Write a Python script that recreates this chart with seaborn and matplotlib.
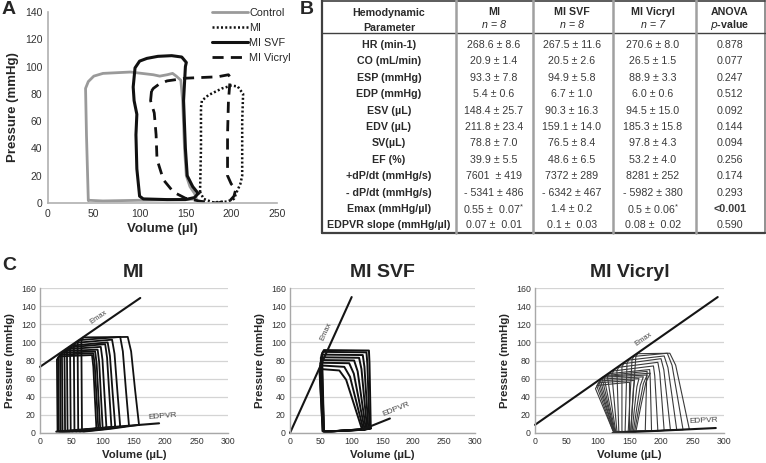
import numpy as np
import pandas as pd
import matplotlib
matplotlib.use('Agg')
import matplotlib.pyplot as plt
from matplotlib.lines import Line2D
import seaborn as sns

# -----------------------------
# Panel A - representative PV loops (volume, pressure)
# -----------------------------
control_v = [44, 42, 41, 44, 50, 60, 90, 115, 122, 130, 136, 140, 145, 147, 149, 151, 155, 160, 162, 150, 100, 60, 44]
control_p = [2, 50, 84, 89, 93, 95, 96, 94, 93, 94, 95, 93, 90, 75, 40, 20, 12, 7, 3, 2.5, 2, 1.5, 2]

mi_v = [166, 167, 167, 168, 175, 190, 200, 207, 213, 212, 212, 210, 206, 203, 195, 180, 170, 166]
mi_p = [8, 40, 70, 75, 79, 84, 86, 85.5, 80, 60, 20, 14, 8, 3, 1, 0.5, 3, 8]

svf_v = [164, 158, 152, 150, 148, 150, 151, 146, 135, 120, 108, 100, 95, 93, 94, 97, 96, 97, 100, 104, 130, 150, 160, 164]
svf_p = [7, 12, 20, 40, 75, 100, 103, 107, 108, 107.5, 106, 104, 99, 85, 75, 65, 50, 25, 5, 3, 2.5, 2.5, 4, 7]

vic_v = [113, 112, 116, 118, 119, 126, 137, 150, 167, 185, 199, 203, 205, 200, 196, 196, 197, 199, 197, 185, 151, 130, 121, 115, 113]
vic_p = [82, 75, 66, 50, 32, 17, 8, 3.5, 1.2, 0, 2, 5, 10, 14, 20, 50, 75, 92, 94, 92.5, 91.5, 89.5, 87, 84, 82]

groups_a = ['Control', 'MI', 'MI SVF', 'MI Vicryl']

# -----------------------------
# Panel B - hemodynamic table
# -----------------------------
params = ['HR (min-1)', 'CO (mL/min)', 'ESP (mmHg)', 'EDP (mmHg)', 'ESV (µL)', 'EDV (µL)',
          'SV(µL)', 'EF (%)', '+dP/dt (mmHg/s)', '- dP/dt (mmHg/s)', 'Emax (mmHg/µl)',
          'EDPVR slope (mmHg/µl)']
mi_vals = ['268.6 ± 8.6', '20.9 ± 1.4', '93.3 ± 7.8', '5.4 ± 0.6', '148.4 ± 25.7', '211.8 ± 23.4',
           '78.8 ± 7.0', '39.9 ± 5.5', '7601  ± 419', '- 5341 ± 486', '0.55 ±  0.07$^{*}$', '0.07 ±  0.01']
svf_vals = ['267.5 ± 11.6', '20.5 ± 2.6', '94.9 ± 5.8', '6.7 ± 1.0', '90.3 ± 16.3', '159.1 ± 14.0',
            '76.5 ± 8.4', '48.6 ± 6.5', '7372 ± 289', '- 6342 ± 467', '1.4 ± 0.2', '0.1 ±  0.03']
vic_vals = ['270.6 ± 8.0', '26.5 ± 1.5', '88.9 ± 3.3', '6.0 ± 0.6', '94.5 ± 15.0', '185.3 ± 15.8',
            '97.8 ± 4.3', '53.2 ± 4.0', '8281 ± 252', '- 5982 ± 380', '0.5 ± 0.06$^{*}$', '0.08 ±  0.02']
p_vals = ['0.878', '0.077', '0.247', '0.512', '0.092', '0.144', '0.094', '0.256', '0.174', '0.293',
          '<0.001', '0.590']
col_heads = ['MI', 'MI SVF', 'MI Vicryl']
col_n = ['n = 8', 'n = 8', 'n = 7']

# -----------------------------
# Panel C - occlusion loops: per loop end-systolic / end-diastolic corners
# esv/esp = top-left corner, vtr/ptr = top-right corner, edv/edp = bottom-right,
# vbl = volume where relaxation ends
# -----------------------------
# MI
c1_esv = [27, 29, 32, 35, 39, 43, 48, 54, 60, 66]
c1_esp = [84, 86, 88, 90, 92, 94, 96, 99, 102, 105]
c1_vtr = [83, 85, 88, 92, 97, 104, 108, 115, 128, 140]
c1_ptr = [86, 88, 90, 92, 95, 98, 100, 103, 106, 106]
c1_edv = [90, 93, 96, 100, 106, 114, 120, 128, 142, 158]
c1_edp = [5, 5, 5, 5.5, 6, 6.5, 7, 7, 8, 9]
c1_vbl = [28, 30, 33, 36, 40, 44, 49, 55, 61, 67]
c1_emax = ([0, 160], [73, 149])
c1_edpvr = ([26, 190], [1.5, 10.7])

# MI SVF
c2_esv = [48, 48, 49, 49, 50, 50, 51, 52]
c2_esp = [70, 74, 77, 80, 83, 86, 89, 91]
c2_vtr = [80, 88, 96, 104, 112, 118, 124, 128]
c2_ptr = [69, 73, 77, 80, 83, 86, 89, 91]
c2_edv = [117, 119, 121, 123, 125, 127, 129, 131]
c2_edp = [3.5, 3.6, 3.8, 4, 4.2, 4.5, 4.8, 5]
c2_vbl = [53, 53, 54, 54, 54, 55, 55, 55]
c2_emax = ([0, 100], [0, 150])
c2_edpvr = ([118, 162], [4, 16])

# MI Vicryl
c3_esv = [96, 98, 100, 102, 104, 107, 110, 115, 122, 130, 138, 146, 154, 160]
c3_esp = [52, 55, 57, 59, 61, 62, 63, 65, 68, 72, 76, 80, 84, 87]
c3_vtr = [150, 158, 165, 172, 178, 183, 178, 182, 188, 195, 200, 205, 210, 214]
c3_ptr = [56, 58, 60, 62, 64, 66, 68, 70, 74, 78, 82, 85, 88, 88]
c3_edv = [150, 152, 154, 156, 158, 160, 175, 185, 195, 205, 215, 225, 235, 245]
c3_edp = [0.9, 1, 1, 1.1, 1.2, 1.2, 1.7, 2.1, 2.4, 2.7, 3.1, 3.4, 3.7, 4.1]
c3_vbl = [124, 124, 125, 125, 126, 126, 127, 128, 130, 133, 138, 143, 148, 152]
c3_emax = ([0, 290], [9, 150])
c3_edpvr = ([123, 287], [0, 5.5])

# -----------------------------
# Figure setup
# -----------------------------
sns.set_theme(style='white')
plt.rcParams['font.family'] = ['Liberation Sans', 'DejaVu Sans']
plt.rcParams['mathtext.default'] = 'regular'

W, H = 766, 463
fig = plt.figure(figsize=(W / 100, H / 100), dpi=100)


def px_axes(l, t, r, b):
    return fig.add_axes([l / W, 1 - b / H, (r - l) / W, (b - t) / H])


def loop_frame(loop_id, esv, esp, vtr, ptr, edv, edp, vbl):
    d = edv - vtr
    vol = [edv, edv - 0.35 * d, edv - 0.7 * d, vtr, esv + 3, esv, vbl, vbl + 3,
           (vbl + edv) / 2, edv]
    pres = [edp, 0.45 * ptr, 0.85 * ptr, ptr, esp + 0.5, esp - 3, 2, 1.5,
            1 + 0.4 * edp, edp]
    return pd.DataFrame({'loop': loop_id, 'vol': vol, 'pres': pres})


# -----------------------------
# Panel A
# -----------------------------
axA = px_axes(48, 12, 277, 203)
frames = []
for g, v, p in zip(groups_a, [control_v, mi_v, svf_v, vic_v], [control_p, mi_p, svf_p, vic_p]):
    frames.append(pd.DataFrame({'group': g, 'vol': v, 'pres': p}))
dfA = pd.concat(frames)
styles = {'Control': dict(color='#9a9a9a', lw=2.0, ls='-'),
          'MI': dict(color='#111111', lw=1.8, ls=(0, (0.8, 0.9))),
          'MI SVF': dict(color='#111111', lw=2.2, ls='-'),
          'MI Vicryl': dict(color='#111111', lw=2.0, ls=(0, (4, 2.6)))}
for g in groups_a:
    sub = dfA[dfA['group'] == g]
    sns.lineplot(data=sub, x='vol', y='pres', sort=False, estimator=None, ax=axA,
                 color=styles[g]['color'], lw=styles[g]['lw'], linestyle=styles[g]['ls'])
axA.set_xlim(0, 250)
axA.set_ylim(0, 140)
axA.set_xticks(range(0, 251, 50))
axA.set_yticks(range(0, 141, 20))
axA.tick_params(labelsize=7.5, colors='#333333', length=0, pad=4)
for s in ['top', 'right']:
    axA.spines[s].set_visible(False)
for s in ['left', 'bottom']:
    axA.spines[s].set_color('#b0b0b0')
    axA.spines[s].set_linewidth(1.2)
axA.set_xlabel('Volume (µl)', fontsize=9.5, fontweight='bold', labelpad=3)
axA.set_ylabel('Pressure (mmHg)', fontsize=9.5, fontweight='bold', labelpad=4)
handles = [Line2D([], [], color=styles[g]['color'], lw=styles[g]['lw'], linestyle=styles[g]['ls'])
           for g in groups_a]
axA.legend(handles, groups_a, loc='upper left', bbox_to_anchor=(212 / W, 1 - 8 / H),
           bbox_transform=fig.transFigure, frameon=False, fontsize=7.8, handlelength=3.3,
           handletextpad=0.15, labelspacing=0.45, borderpad=0, borderaxespad=0)

# -----------------------------
# Panel B - table
# -----------------------------
axB = px_axes(322, 0, 765, 233)
axB.set_xlim(322, 765)
axB.set_ylim(233, 0)
axB.axis('off')
col_x = [389, 494, 572, 653, 730]
sep_x = [456, 533, 613, 696]
dark = '#404040'
axB.plot([322, 322], [0, 233], color=dark, lw=1.6, clip_on=False)
axB.plot([765, 765], [0, 233], color='#909090', lw=1.4, clip_on=False)
axB.plot([322, 765], [0.5, 0.5], color=dark, lw=1.2, clip_on=False)
axB.plot([322, 765], [233, 233], color=dark, lw=1.6, clip_on=False)
axB.plot([322, 765], [33, 33], color=dark, lw=1.0, clip_on=False)
for x in sep_x:
    axB.plot([x, x], [0, 233], color='#a0a0a0', lw=1.8, clip_on=False)

tc = '#2a2a2a'
fs = 7.7
axB.text(col_x[0], 13, 'Hemodynamic', ha='center', va='center', fontsize=fs, fontweight='bold', color=tc)
axB.text(col_x[0], 28, 'Parameter', ha='center', va='center', fontsize=fs, fontweight='bold', color=tc)
for i, (h, n) in enumerate(zip(col_heads, col_n)):
    axB.text(col_x[i + 1], 12, h, ha='center', va='center', fontsize=fs, fontweight='bold', color=tc)
    axB.text(col_x[i + 1], 25, n, ha='center', va='center', fontsize=fs, style='italic', color=tc)
axB.text(col_x[4], 12, 'ANOVA', ha='center', va='center', fontsize=fs, fontweight='bold', color=tc)
axB.text(col_x[4], 25, r'$\mathit{p}$-value', ha='center', va='center', fontsize=fs, fontweight='bold', color=tc)

for r, (pn, a, b, c, pv) in enumerate(zip(params, mi_vals, svf_vals, vic_vals, p_vals)):
    y = 45 + r * 16.4
    axB.text(col_x[0], y, pn, ha='center', va='center', fontsize=fs, fontweight='bold', color=tc)
    for j, s in enumerate([a, b, c]):
        axB.text(col_x[j + 1], y, s, ha='center', va='center', fontsize=fs, color='#3a3a3a')
    axB.text(col_x[4], y, pv, ha='center', va='center', fontsize=fs, color='#3a3a3a',
             fontweight='bold' if pv.startswith('<') else 'normal')

# -----------------------------
# Panel C
# -----------------------------
panels = [
    ('MI', (40, 228), (c1_esv, c1_esp, c1_vtr, c1_ptr, c1_edv, c1_edp, c1_vbl), c1_emax, c1_edpvr,
     '#111111', 1.3, (94, 128), (195, 18)),
    ('MI SVF', (290, 475), (c2_esv, c2_esp, c2_vtr, c2_ptr, c2_edv, c2_edp, c2_vbl), c2_emax, c2_edpvr,
     '#111111', 1.4, (58, 112), (172, 26)),
    ('MI Vicryl', (535, 724), (c3_esv, c3_esp, c3_vtr, c3_ptr, c3_edv, c3_edp, c3_vbl), c3_emax, c3_edpvr,
     '#3a3a3a', 0.8, (173, 104), (268, 14)),
]
for title, (l, r), cols, emax, edpvr, lc, lw, emax_xy, edpvr_xy in panels:
    ax = px_axes(l, 288, r, 433)
    dfs = [loop_frame(k, *vals) for k, vals in enumerate(zip(*cols))]
    dfc = pd.concat(dfs)
    sns.lineplot(data=dfc, x='vol', y='pres', units='loop', estimator=None, sort=False,
                 color=lc, lw=lw, ax=ax)
    ax.plot(emax[0], emax[1], color='#151515', lw=1.5, clip_on=False)
    ax.plot(edpvr[0], edpvr[1], color='#151515', lw=1.5, clip_on=False)
    for ln in ax.get_lines():
        ln.set_clip_on(False)
    ax.set_xlim(0, 300)
    ax.set_ylim(0, 160)
    ax.set_xticks(range(0, 301, 50))
    ax.set_yticks(range(0, 161, 20))
    ax.yaxis.grid(True, color='#d4d4d4', lw=0.9)
    ax.set_axisbelow(True)
    ax.tick_params(labelsize=6.3, colors='#333333', length=0, pad=3)
    for s in ['top', 'right']:
        ax.spines[s].set_visible(False)
    for s in ['left', 'bottom']:
        ax.spines[s].set_color('#a8a8a8')
        ax.spines[s].set_linewidth(1.0)
    ax.set_xlabel('Volume (µL)', fontsize=8.2, fontweight='bold', labelpad=3)
    ax.set_ylabel('Pressure (mmHg)', fontsize=8.2, fontweight='bold', labelpad=4)
    ax.set_title(title, fontsize=14, fontweight='bold', pad=8)
    # label rotations follow the lines on screen
    fig.canvas.draw()
    for (xs, ys), txt, (tx, ty), fsz in [(emax, 'Emax', emax_xy, 5.5), (edpvr, 'EDPVR', edpvr_xy, 6)]:
        p0 = ax.transData.transform((xs[0], ys[0]))
        p1 = ax.transData.transform((xs[1], ys[1]))
        ang = np.degrees(np.arctan2(p1[1] - p0[1], p1[0] - p0[0]))
        ax.text(tx, ty, txt, rotation=ang, rotation_mode='anchor', ha='center', va='center',
                fontsize=fsz, color='#444444')

# panel letters
fig.text(2 / W, 1 - 10 / H, 'A', fontsize=14, fontweight='bold', va='center')
fig.text(300 / W, 1 - 10 / H, 'B', fontsize=14, fontweight='bold', va='center')
fig.text(2 / W, 1 - 265 / H, 'C', fontsize=14, fontweight='bold', va='center')

fig.savefig('out.png', dpi=100)
